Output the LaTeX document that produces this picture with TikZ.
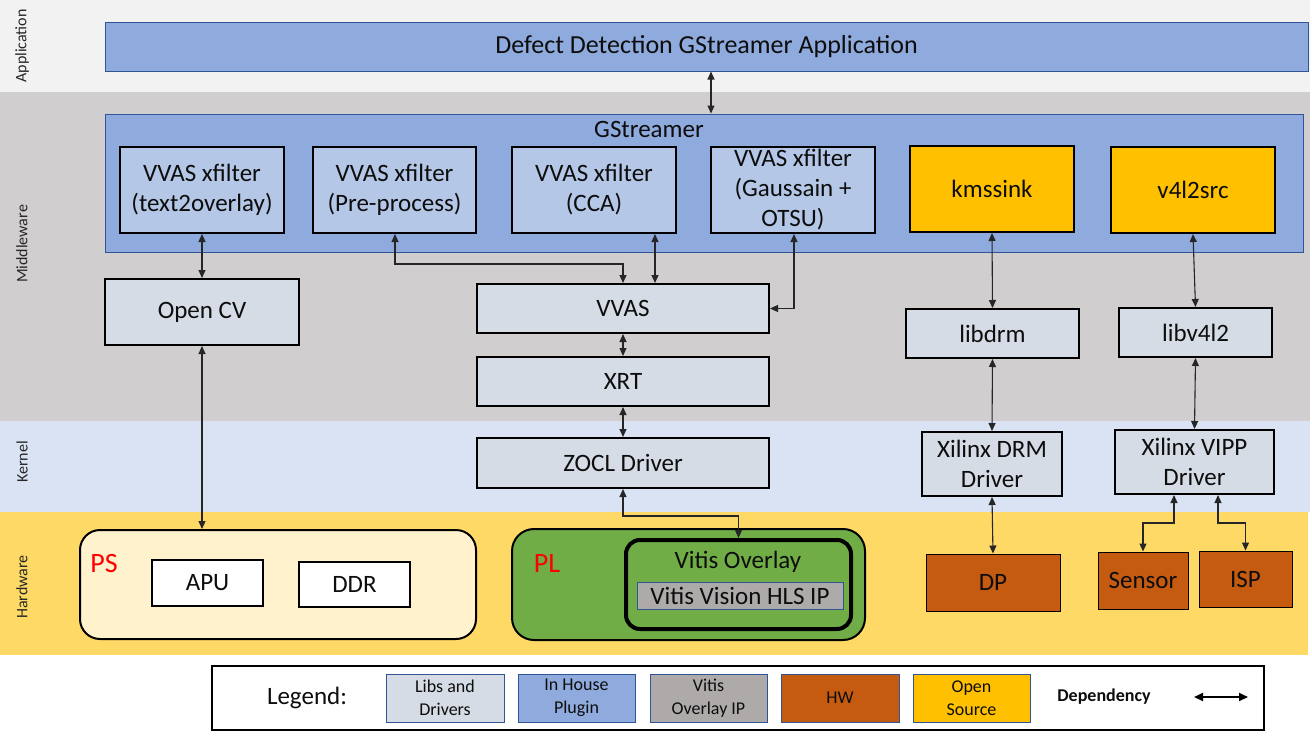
\documentclass[tikz,border=0pt]{standalone}
\usepackage{fontspec}
\setmainfont{Carlito}
\usetikzlibrary{arrows.meta}
\definecolor{appband}{HTML}{F2F2F2}
\definecolor{midband}{HTML}{D0CECE}
\definecolor{kernband}{HTML}{DAE3F3}
\definecolor{hwband}{HTML}{FFD966}
\definecolor{plugc}{HTML}{8FAADC}
\definecolor{plugborder}{HTML}{2F5597}
\definecolor{filterc}{HTML}{B4C7E7}
\definecolor{libc}{HTML}{D6DCE5}
\definecolor{openc}{HTML}{FFC000}
\definecolor{hwc}{HTML}{C55A11}
\definecolor{psc}{HTML}{FFF2CC}
\definecolor{plc}{HTML}{70AD47}
\definecolor{ipc}{HTML}{AEAAAA}
\definecolor{txtc}{HTML}{0D0D0D}
\definecolor{bandtxt}{HTML}{262626}
\newcommand\myfs[2]{\fontsize{#1}{#2}\selectfont}
\newcommand\bx[7]{\node[#1, minimum width=#5pt-#3pt, minimum height=#6pt-#4pt] (#2) at ({(#3+#5)/2},{(#4+#6)/2}) {#7};}
\tikzset{
  bandlbl/.style={rotate=90, font=\myfs{16}{19}, text=bandtxt, inner sep=0},
  base/.style={inner sep=0, align=center, text=txtc, font=\myfs{25}{30}},
  appbox/.style={base, fill=plugc, draw=plugborder, line width=1pt},
  filterbox/.style={base, fill=filterc, draw=black, line width=2pt},
  openbox/.style={base, fill=openc, draw=black, line width=2pt},
  libbox/.style={base, fill=libc, draw=black, line width=2pt},
  hwbox/.style={base, fill=hwc, draw=black, line width=1pt},
  whitebox/.style={base, fill=white, draw=black, line width=1.2pt},
  psbox/.style={base, fill=psc, draw=black, line width=2pt, rounded corners=20pt},
  plbox/.style={base, fill=plc, draw=black, line width=2pt, rounded corners=22pt},
  ovlbox/.style={base, fill=plc, draw=black, line width=4pt, rounded corners=14pt},
  ipbox/.style={base, fill=ipc, draw=plugborder, line width=1pt},
  redlbl/.style={inner sep=0, text=red, font=\myfs{28}{32}},
  plaintxt/.style={inner sep=0, text=txtc, font=\myfs{25}{30}},
  legbox/.style={base, draw=plugborder, line width=1pt, font=\myfs{18}{22.5}},
  legframe/.style={draw=black, line width=2.5pt, fill=white},
  dep/.style={{Triangle[length=8pt,width=7pt]}-{Triangle[length=8pt,width=7pt]}, line width=1.1pt, draw=black!85},
  legarrow/.style={{Triangle[length=9pt,width=8pt]}-{Triangle[length=9pt,width=8pt]}, line width=2pt, draw=black},
}
\begin{document}
\begin{tikzpicture}[x=1pt,y=-1pt]
\useasboundingbox (0,0) rectangle (1312,739);
% bands
\fill[appband] (0,0) rectangle (1310,92);
\fill[midband] (0,92) rectangle (1310,421);
\fill[kernband] (0,421) rectangle (1310,512);
\fill[hwband] (0,512) rectangle (1308,655);
\node[bandlbl] (lapp) at (22,46) {Application};
\node[bandlbl] (lmid) at (22,244) {Middleware};
\node[bandlbl] (lker) at (22,462) {Kernel};
\node[bandlbl] (lhw) at (22,587) {Hardware};
% application
\bx{appbox, font=\myfs{26}{30}}{app}{105}{22}{1308}{71}{Defect Detection GStreamer Application}
% gstreamer
\bx{appbox}{gst}{105}{114}{1303}{252}{}
\node[plaintxt] (gstlbl) at (649,129) {GStreamer};
\bx{filterbox}{f1}{120}{147}{284}{233}{VVAS xfilter\\(text2overlay)}
\bx{filterbox}{f2}{313}{147}{476}{233}{VVAS xfilter\\(Pre-process)}
\bx{filterbox}{f3}{512}{147}{676}{233}{VVAS xfilter\\(CCA)}
\bx{filterbox}{f4}{711}{147}{875}{233}{VVAS xfilter\\(Gaussain +\\OTSU)}
\bx{openbox}{kms}{910}{146}{1074}{232}{kmssink}
\bx{openbox}{v4l}{1111}{147}{1275}{233}{v4l2src}
% middleware libs
\bx{libbox}{ocv}{105}{279}{299}{345}{Open CV}
\bx{libbox}{vvas}{477}{284}{769}{333}{VVAS}
\bx{libbox}{xrt}{477}{357}{769}{406}{XRT}
\bx{libbox}{libdrm}{906}{309}{1079}{358}{libdrm}
\bx{libbox}{libv}{1119}{308}{1272}{357}{libv4l2}
% kernel
\bx{libbox}{zocl}{477}{438}{769}{488}{ZOCL Driver}
\bx{libbox}{drmdrv}{922}{432}{1062}{496}{Xilinx DRM\\Driver}
\bx{libbox}{vipp}{1115}{430}{1274}{494}{Xilinx VIPP\\Driver}
% hardware
\bx{psbox}{ps}{80}{530}{476}{639}{}
\node[redlbl] (pslbl) at (104,564) {PS};
\bx{whitebox}{apu}{152}{560}{263}{606}{APU}
\bx{whitebox}{ddr}{299}{562}{410}{607}{DDR}
\bx{plbox}{pl}{512}{529}{865}{640}{}
\node[redlbl] (pllbl) at (547,564) {PL};
\bx{ovlbox}{ovl}{626}{540}{851}{629}{}
\node[plaintxt] (ovltxt) at (738,562) {Vitis Overlay};
\bx{ipbox}{hls}{637}{582}{843}{609}{Vitis Vision HLS IP}
\bx{hwbox}{dp}{926}{554}{1060}{611}{DP}
\bx{hwbox}{sensor}{1098}{552}{1188}{609}{Sensor}
\bx{hwbox}{isp}{1199}{551}{1292}{607}{ISP}
% helper coordinates
\coordinate (cA) at (711,0);
\coordinate (cB) at (202,0);
\coordinate (cC) at (395,0);
\coordinate (cD) at (0,264);
\coordinate (cE) at (655,0);
\coordinate (cF) at (794,0);
\coordinate (cG) at (0,516);
\coordinate (cH) at (1174,0);
\coordinate (cJ) at (0,523);
\coordinate (cK) at (1218,0);
% connectors
\draw[dep] (app.south -| cA) -- (gst.north -| cA);
\draw[dep] (f1.south -| cB) -- (ocv.north -| cB);
\draw[dep] (f2.south -| cC) |- (vvas.north |- cD) -- (vvas.north);
\draw[dep] (f3.south -| cE) -- (vvas.north -| cE);
\draw[dep] (f4.south -| cF) |- (vvas.east);
\draw[dep] (vvas.south) -- (xrt.north);
\draw[dep] (xrt.south) -- (zocl.north);
\draw[dep] (zocl.south) |- (ovl.north |- cG) -- (ovl.north);
\draw[dep] (ocv.south -| cB) -- (ps.north -| cB);
\draw[dep] (kms.south) -- (libdrm.north);
\draw[dep] (v4l.south) -- (libv.north);
\draw[dep] (libdrm.south) -- (drmdrv.north);
\draw[dep] (libv.south) -- (vipp.north);
\draw[dep] (drmdrv.south) -- (dp.north);
\draw[dep] (vipp.south -| cH) |- (sensor.north |- cJ) -- (sensor.north);
\draw[dep] (vipp.south -| cK) |- (isp.north |- cJ) -- (isp.north);
% legend
\bx{legframe}{leg}{212}{666}{1264}{730}{}
\node[plaintxt] (legtxt) at (307,698) {Legend:};
\bx{legbox, fill=libc}{lg1}{386}{674}{504}{722}{Libs and\\Drivers}
\bx{legbox, fill=plugc}{lg2}{518}{674}{635}{722}{In House\\Plugin}
\bx{legbox, fill=ipc}{lg3}{650}{674}{767}{722}{Vitis\\Overlay IP}
\bx{legbox, fill=hwc}{lg4}{781}{674}{899}{722}{HW}
\bx{legbox, fill=openc}{lg5}{913}{674}{1030}{722}{Open\\Source}
\node[inner sep=0, text=txtc, font=\myfs{18}{22}\bfseries] (deptxt) at (1104,697) {Dependency};
\coordinate (la) at (1194,697);
\coordinate (lb) at (1248,697);
\draw[legarrow] (la) -- (lb);
\end{tikzpicture}
\end{document}
